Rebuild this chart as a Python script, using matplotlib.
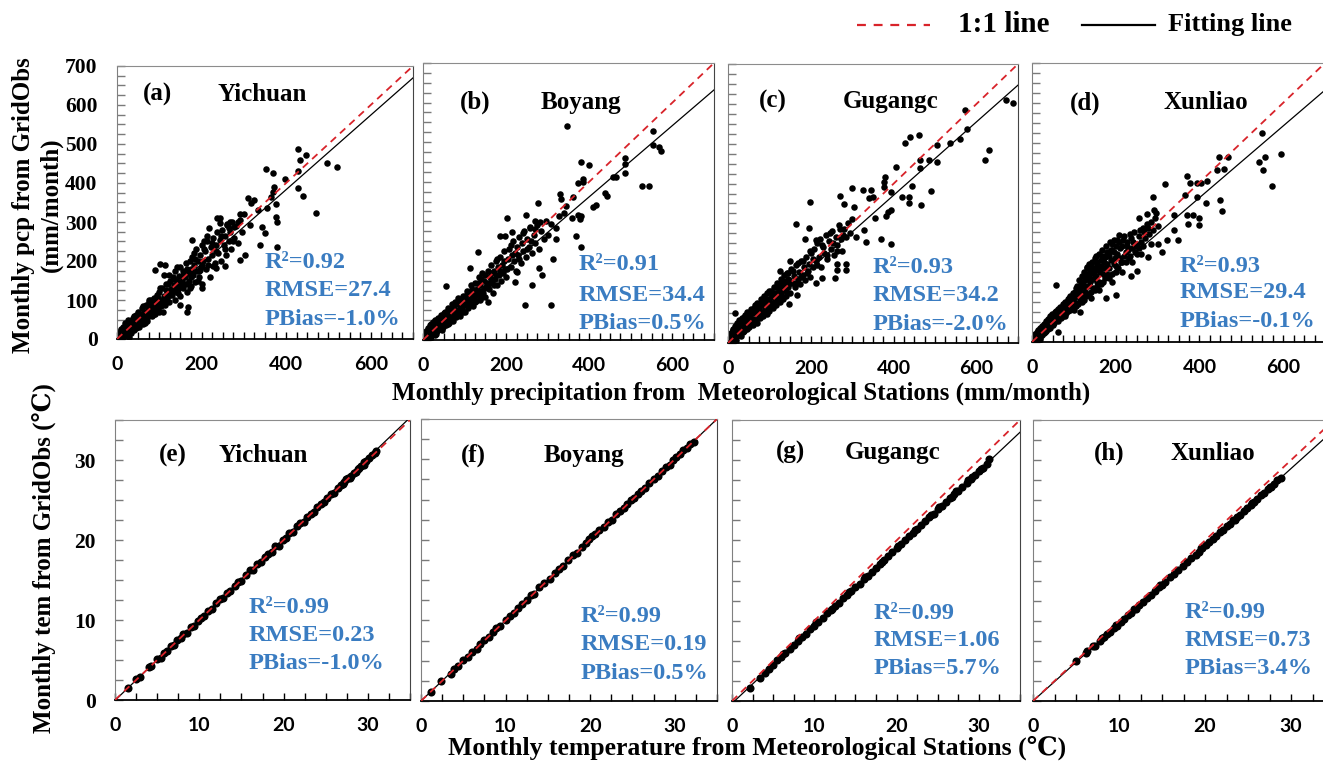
import numpy as np
import matplotlib
matplotlib.use('Agg')
from matplotlib import pyplot as plt
from matplotlib.lines import Line2D
from matplotlib.ticker import MultipleLocator

plt.rcParams['font.family'] = ['Liberation Serif', 'DejaVu Serif']
plt.rcParams['font.weight'] = 'bold'

stations = ['Yichuan', 'Boyang', 'Gugangc', 'Xunliao']
pcp_tags = ['(a)', '(b)', '(c)', '(d)']
tem_tags = ['(e)', '(f)', '(g)', '(h)']

# statistics printed in each panel
pcp_r2 = ['0.92', '0.91', '0.93', '0.93']
pcp_rmse = ['27.4', '34.4', '34.2', '29.4']
pcp_pbias = ['-1.0', '0.5', '-2.0', '-0.1']
tem_r2 = ['0.99', '0.99', '0.99', '0.99']
tem_rmse = ['0.23', '0.19', '1.06', '0.73']
tem_pbias = ['-1.0', '0.5', '5.7', '3.4']

# fitting lines (slope, intercept)
pcp_fit = [(0.955, 1.0), (0.90, 2.0), (0.92, 3.0), (0.90, 2.0)]
tem_fit = [(1.01, -0.05), (1.0, 0.0), (0.965, -0.3), (0.965, 0.0)]

# monthly precipitation: (station, gridobs) mm/month
pcp_yichuan = [
    (2, 3), (4, 10), (5, 0), (6, 18), (8, 5), (10, 25), (10, 12), (12, 2), (14, 30), (15, 16),
    (17, 8), (18, 40), (20, 22), (22, 12), (24, 33), (25, 48), (27, 20), (28, 5), (30, 38), (31, 26),
    (33, 15), (35, 50), (36, 30), (38, 42), (40, 22), (41, 60), (43, 35), (45, 48), (46, 28), (48, 55),
    (50, 40), (50, 70), (52, 32), (54, 62), (56, 45), (58, 80), (60, 52), (61, 38), (63, 70), (65, 58),
    (67, 48), (68, 88), (70, 65), (72, 55), (74, 78), (75, 95), (77, 62), (79, 72), (80, 100), (82, 58),
    (84, 85), (86, 70), (88, 105), (90, 80), (91, 65), (93, 95), (95, 112), (96, 78), (98, 90), (100, 120),
    (100, 70), (103, 100), (105, 85), (107, 130), (108, 95), (110, 110), (112, 165), (114, 88), (116, 125), (118, 105),
    (120, 140), (122, 118), (124, 95), (126, 150), (128, 128), (130, 112), (132, 160), (134, 138), (136, 100), (138, 175),
    (140, 130), (142, 150), (144, 118), (146, 162), (148, 140), (150, 110), (150, 185), (153, 150), (155, 130), (157, 175),
    (160, 160), (162, 140), (164, 195), (166, 120), (168, 170), (170, 150), (172, 200), (174, 180), (176, 135), (178, 210),
    (180, 165), (182, 190), (185, 145), (187, 230), (189, 175), (191, 200), (194, 160), (196, 215), (198, 185), (200, 240),
    (200, 140), (204, 200), (207, 225), (210, 180), (213, 250), (216, 205), (219, 160), (222, 235), (225, 215), (228, 260),
    (231, 195), (234, 240), (237, 275), (240, 220), (243, 255), (246, 200), (249, 280), (252, 240), (255, 265), (258, 215),
    (261, 295), (264, 250), (267, 275), (270, 230), (273, 300), (277, 260), (281, 290), (285, 245), (290, 305), (295, 275),
    (300, 320), (177, 254), (205, 250), (217, 284), (236, 310), (244, 297), (260, 292), (177, 168), (197, 177), (228, 186),
    (15, 5), (22, 30), (35, 25), (45, 62), (55, 50), (62, 85), (70, 45), (78, 88), (85, 95), (92, 75),
    (102, 130), (108, 70), (115, 140), (125, 112), (135, 155), (145, 128), (155, 165), (165, 180), (175, 158), (185, 205),
    (195, 175), (205, 230), (215, 190), (225, 245), (235, 225), (245, 265), (255, 230), (265, 285), (275, 250), (285, 300),
    (12, 20), (26, 12), (38, 55), (48, 30), (58, 65), (66, 40), (76, 100), (88, 65), (98, 105), (112, 95),
    (122, 165), (132, 120), (142, 185), (152, 140), (162, 175), (172, 130), (182, 220), (192, 150), (202, 190), (212, 265),
    (428, 487), (448, 472), (433, 459), (428, 431), (398, 411), (496, 450), (520, 442), (441, 367), (428, 386), (471, 322),
    (353, 436), (369, 425), (372, 391), (377, 346), (375, 314), (378, 301), (378, 237), (337, 241), (351, 273), (344, 286),
    (369, 378), (364, 365), (354, 335), (333, 331), (317, 348), (310, 361), (323, 357), (314, 292), (292, 321), (303, 215),
    (290, 203), (244, 310), (268, 301), (276, 288), (235, 181), (256, 186), (169, 83), (165, 70), (150, 87), (201, 130),
    (114, 190), (91, 177), (102, 192),
]
pcp_boyang = [
    (1, 2), (3, 8), (4, 0), (5, 15), (7, 4), (8, 22), (10, 10), (11, 30), (13, 18), (14, 6),
    (16, 26), (18, 38), (19, 14), (21, 28), (23, 45), (24, 20), (26, 35), (28, 12), (29, 50), (31, 30),
    (33, 42), (34, 22), (36, 55), (38, 36), (40, 48), (41, 28), (43, 62), (45, 40), (47, 52), (49, 32),
    (50, 68), (52, 45), (54, 58), (56, 38), (58, 72), (60, 50), (62, 64), (63, 42), (65, 78), (67, 56),
    (69, 90), (70, 62), (72, 48), (74, 80), (76, 66), (78, 95), (80, 58), (82, 74), (84, 105), (86, 68),
    (88, 85), (90, 60), (92, 98), (94, 78), (96, 112), (98, 88), (100, 72), (102, 105), (104, 92), (106, 125),
    (108, 82), (110, 100), (112, 118), (114, 94), (116, 138), (118, 108), (120, 86), (122, 125), (124, 112), (126, 145),
    (128, 98), (130, 130), (132, 115), (134, 160), (136, 104), (138, 140), (140, 125), (142, 170), (144, 118), (146, 150),
    (148, 132), (150, 108), (153, 145), (156, 175), (158, 130), (160, 160), (163, 190), (165, 145), (168, 120), (170, 175),
    (172, 155), (175, 200), (177, 140), (180, 185), (182, 165), (185, 210), (187, 150), (190, 190), (192, 170), (195, 225),
    (198, 180), (200, 158), (205, 205), (208, 230), (211, 185), (214, 215), (217, 250), (220, 200), (223, 175), (226, 235),
    (229, 215), (232, 260), (235, 195), (238, 245), (241, 225), (244, 275), (247, 210), (250, 255), (254, 235), (258, 285),
    (262, 220), (266, 265), (270, 245), (275, 290), (280, 230), (285, 275), (290, 255), (295, 300), (300, 265),
    (6, 10), (12, 25), (20, 40), (27, 18), (35, 30), (42, 55), (48, 60), (55, 45), (61, 80), (68, 52),
    (75, 72), (83, 62), (90, 100), (97, 70), (105, 115), (111, 90), (118, 130), (125, 95), (133, 145), (141, 110),
    (149, 165), (157, 140), (164, 170), (171, 140), (179, 205), (186, 175), (194, 200), (203, 180), (212, 240), (221, 220),
    (231, 205), (240, 270), (250, 230), (260, 250), (270, 280), (9, 18), (17, 5), (25, 42), (32, 15), (39, 48),
    (46, 26), (53, 72), (59, 40), (66, 70), (73, 58), (80, 90), (87, 75), (95, 85), (103, 90), (115, 105),
    (127, 120), (139, 155), (151, 135), (163, 155), (176, 165),
    (347, 541), (554, 527), (554, 493), (568, 487), (572, 477), (487, 460), (487, 446), (485, 422), (456, 413), (464, 411),
    (528, 390), (544, 390), (439, 372), (442, 364), (380, 451), (399, 441), (372, 397), (384, 407), (384, 399), (410, 337),
    (415, 340), (329, 370), (332, 357), (360, 361), (344, 339), (381, 314), (372, 316), (377, 307), (359, 309), (367, 263),
    (380, 234), (313, 205), (279, 181), (287, 163), (263, 140), (245, 88), (309, 88), (277, 347), (247, 315), (201, 308),
    (185, 262), (197, 262), (213, 273), (321, 284), (319, 255), (309, 293), (269, 301), (281, 297), (257, 284), (328, 314),
    (339, 322), (225, 171), (221, 146), (157, 96), (138, 100), (132, 222), (112, 181), (56, 136),
]
pcp_gugangc = [
    (1, 3), (2, 10), (3, 0), (5, 18), (6, 6), (8, 25), (9, 12), (11, 35), (12, 20), (14, 4),
    (15, 28), (17, 42), (18, 15), (20, 32), (22, 50), (23, 22), (25, 38), (27, 58), (28, 28), (30, 45),
    (32, 18), (33, 62), (35, 40), (37, 52), (38, 30), (40, 70), (42, 46), (44, 58), (45, 35), (47, 78),
    (49, 55), (50, 40), (52, 68), (54, 48), (56, 85), (58, 60), (60, 44), (62, 75), (64, 95), (65, 58),
    (67, 80), (69, 50), (71, 100), (73, 70), (75, 88), (77, 62), (79, 110), (81, 78), (83, 95), (85, 68),
    (87, 118), (89, 85), (91, 102), (93, 72), (95, 125), (97, 92), (99, 110), (100, 80), (103, 130), (105, 100),
    (107, 118), (109, 88), (111, 140), (113, 108), (115, 125), (117, 95), (119, 150), (121, 115), (123, 132), (125, 102),
    (127, 160), (129, 125), (131, 140), (133, 110), (135, 170), (137, 135), (139, 150), (141, 118), (143, 175), (145, 140),
    (147, 158), (150, 125), (153, 185), (156, 150), (159, 168), (162, 140), (165, 195), (168, 160), (171, 178), (174, 148),
    (177, 205), (180, 170), (183, 190), (186, 158), (189, 215), (192, 180), (195, 198), (198, 165), (200, 225), (204, 190),
    (208, 235), (212, 205), (216, 250), (220, 215), (224, 190), (228, 245), (232, 225), (236, 270), (240, 210), (244, 255),
    (248, 235), (252, 280), (256, 220), (260, 265), (264, 245), (268, 295), (272, 260), (276, 230), (280, 285), (285, 265),
    (290, 300), (295, 275), (300, 310),
    (4, 12), (10, 28), (16, 10), (21, 45), (26, 20), (31, 55), (36, 28), (41, 60), (46, 40), (51, 75),
    (57, 50), (63, 88), (68, 60), (74, 95), (80, 70), (86, 105), (92, 80), (98, 130), (104, 90), (110, 125),
    (116, 110), (122, 145), (128, 115), (134, 155), (140, 130), (146, 175), (152, 150), (158, 180), (164, 150), (170, 200),
    (176, 165), (182, 205), (190, 175), (198, 230), (206, 210), (214, 195), (222, 260), (230, 240), (238, 220), (246, 275),
    (254, 250), (262, 230), (270, 285), (278, 270), (7, 20), (13, 32), (19, 8), (29, 40), (39, 65), (48, 52),
    (59, 80), (70, 75), (82, 100), (94, 110), (106, 118), (118, 140), (131, 150), (144, 160),
    (670, 610), (688, 603), (572, 585), (576, 536), (561, 513), (536, 501), (505, 497), (505, 453), (484, 459), (463, 438),
    (464, 458), (620, 459), (629, 483), (428, 501), (440, 518), (461, 522), (406, 442), (378, 417), (377, 405), (377, 392),
    (393, 378), (421, 367), (437, 367), (437, 350), (444, 394), (467, 346), (491, 382), (394, 334), (386, 329), (382, 318),
    (355, 313), (370, 262), (393, 248), (334, 253), (328, 283), (310, 266), (346, 385), (341, 363), (326, 384), (349, 367),
    (299, 390), (270, 369), (279, 348), (303, 340), (197, 353), (165, 298), (196, 289), (187, 260), (213, 258), (284, 184),
    (262, 183), (258, 162), (228, 163), (284, 199), (262, 199), (213, 151), (167, 120), (147, 99), (125, 181), (149, 206),
    (16, 75),
]
pcp_xunliao = [
    (1, 2), (2, 8), (4, 0), (5, 14), (6, 5), (8, 20), (10, 10), (11, 26), (13, 16), (14, 4),
    (16, 24), (18, 34), (19, 12), (21, 28), (23, 40), (24, 18), (26, 32), (28, 46), (29, 22), (31, 38),
    (33, 52), (34, 28), (36, 44), (38, 58), (39, 32), (41, 50), (43, 64), (44, 36), (46, 55), (48, 70),
    (49, 42), (51, 60), (53, 48), (55, 75), (57, 55), (59, 66), (61, 82), (63, 52), (65, 72), (67, 88),
    (69, 60), (71, 78), (73, 95), (75, 65), (77, 84), (79, 100), (81, 72), (83, 90), (85, 108), (87, 78),
    (89, 96), (91, 115), (93, 85), (95, 104), (97, 122), (99, 90), (100, 110), (103, 125), (105, 98), (107, 140),
    (109, 115), (111, 130), (113, 155), (115, 108), (117, 140), (119, 165), (121, 120), (123, 150), (125, 175), (127, 128),
    (129, 160), (131, 185), (133, 140), (135, 170), (137, 195), (139, 150), (141, 178), (143, 200), (145, 158), (147, 185),
    (150, 210), (153, 165), (156, 195), (159, 220), (162, 175), (165, 205), (168, 230), (171, 185), (174, 215), (177, 240),
    (180, 195), (183, 225), (186, 250), (189, 205), (192, 232), (195, 255), (198, 210), (200, 240), (204, 220), (208, 250),
    (212, 200), (216, 240), (220, 265), (224, 225), (228, 250), (232, 210), (236, 260), (240, 235), (244, 275), (248, 245),
    (252, 220), (256, 265), (260, 250), (265, 285), (270, 260), (275, 295), (280, 270), (285, 300), (290, 280), (295, 310),
    (300, 290),
    (3, 10), (9, 18), (15, 30), (20, 8), (27, 40), (32, 25), (37, 50), (42, 40), (47, 62), (52, 55),
    (58, 78), (64, 65), (70, 85), (76, 95), (82, 80), (88, 110), (94, 100), (101, 120), (106, 135), (112, 120),
    (118, 150), (124, 140), (130, 170), (136, 160), (142, 190), (148, 170), (155, 200), (161, 185), (167, 215), (173, 200),
    (179, 225), (185, 215), (191, 245), (197, 225), (203, 255), (210, 235), (218, 255), (226, 240), (234, 270), (242, 250),
    (250, 240), (258, 280), (268, 275), (278, 285), (6, 12), (12, 22), (17, 5), (25, 28), (35, 38), (45, 48),
    (56, 62), (66, 80), (78, 75), (90, 88), (102, 95), (114, 130), (126, 155), (138, 175), (152, 180), (164, 190),
    (176, 215), (188, 230), (140, 110), (160, 150), (180, 170), (200, 190), (120, 100), (100, 80),
    (110, 95), (125, 105), (135, 120), (150, 130), (165, 145), (175, 160), (190, 170), (205, 185), (215, 200), (225, 200),
    (235, 215), (245, 225), (255, 235), (265, 240), (130, 115), (145, 135), (155, 150), (170, 170), (185, 185), (195, 195),
    (210, 210), (220, 215), (230, 230), (245, 240), (200, 175), (185, 160), (170, 150), (155, 140), (140, 125), (120, 110),
    (105, 90), (90, 80), (80, 65), (160, 130), (190, 150), (215, 175), (240, 200), (260, 220), (285, 245), (115, 75),
    (549, 524), (556, 465), (542, 451), (553, 432), (595, 472), (574, 391), (446, 465), (469, 465), (442, 432), (458, 433),
    (448, 356), (455, 329), (416, 349), (418, 405), (404, 400), (317, 396), (370, 416), (377, 398), (394, 400), (365, 370),
    (394, 363), (370, 318), (384, 318), (372, 297), (400, 310), (400, 293), (339, 318), (289, 363), (291, 331), (297, 323),
    (274, 320), (255, 310), (323, 257), (349, 257), (339, 281), (301, 246), (311, 226), (278, 214), (251, 178), (236, 165),
    (200, 117), (176, 111), (152, 217), (175, 214), (208, 268), (132, 189), (57, 142), (63, 25),
]

# monthly temperature: (station, gridobs) degC
tem_yichuan = [
    (1.5, 1.5), (2.5, 2.6), (3.0, 2.9), (4.0, 4.1), (4.3, 4.2), (5.0, 5.1), (5.4, 5.3), (5.8, 5.9), (6.2, 6.1), (6.6, 6.7),
    (7.0, 6.9), (7.4, 7.5), (7.8, 7.7), (8.1, 8.2), (8.5, 8.4), (9.0, 9.1), (9.4, 9.3), (9.8, 9.9), (10.2, 10.3), (10.6, 10.5),
    (11.0, 11.1), (11.5, 11.4), (12.0, 12.1), (12.4, 12.6), (12.8, 12.7), (13.3, 13.4), (13.7, 13.6), (14.2, 14.3), (14.6, 14.7), (15.0, 14.9),
    (15.5, 15.6), (16.0, 16.2), (16.4, 16.3), (16.9, 17.0), (17.3, 17.2), (17.8, 17.9), (18.2, 18.3), (18.6, 18.5), (19.0, 19.2), (19.4, 19.3),
    (19.9, 20.0), (20.3, 20.2), (20.7, 20.9), (21.1, 21.0), (21.6, 21.7), (22.0, 22.1), (22.4, 22.3), (22.8, 22.9), (23.2, 23.3), (23.6, 23.5),
    (24.0, 24.1), (24.4, 24.5), (24.8, 24.7), (25.2, 25.3), (25.6, 25.7), (26.0, 25.9), (26.4, 26.5), (26.8, 26.9), (27.1, 27.0), (27.4, 27.6),
    (27.7, 27.8), (28.0, 28.0), (28.3, 28.4), (28.6, 28.5), (28.9, 29.0), (29.2, 29.3), (29.5, 29.4), (29.8, 29.9), (30.1, 30.2), (30.5, 30.6),
    (30.9, 30.9), (31.0, 31.1), (27.2, 27.3), (27.9, 27.7), (28.8, 28.9), (29.6, 29.7),
]
tem_boyang = [
    (1.2, 1.1), (2.4, 2.5), (3.5, 3.4), (3.9, 4.0), (4.4, 4.3), (5.0, 5.1), (5.5, 5.5), (6.0, 6.1), (6.6, 6.5), (7.0, 7.1),
    (7.5, 7.6), (8.0, 7.9), (8.5, 8.6), (8.9, 9.0), (9.4, 9.3), (10.0, 10.1), (10.5, 10.6), (11.0, 10.9), (11.5, 11.6), (12.0, 12.1),
    (12.5, 12.5), (13.0, 13.1), (13.4, 13.3), (14.0, 14.1), (14.6, 14.7), (15.2, 15.2), (15.8, 15.9), (16.3, 16.4), (16.8, 16.8), (17.4, 17.5),
    (18.0, 18.1), (18.5, 18.4), (19.0, 19.1), (19.5, 19.6), (19.9, 20.1), (20.2, 20.5), (20.6, 20.7), (21.1, 21.2), (21.6, 21.6), (22.1, 22.2),
    (22.6, 22.5), (23.1, 23.2), (23.5, 23.6), (24.0, 24.0), (24.4, 24.5), (24.8, 24.9), (25.2, 25.2), (25.6, 25.7), (26.0, 26.1), (26.5, 26.4),
    (27.0, 27.1), (27.5, 27.6), (28.0, 27.9), (28.5, 28.6), (29.0, 29.1), (29.4, 29.3), (29.8, 29.9), (30.2, 30.3), (30.6, 30.6), (31.0, 31.1),
    (31.4, 31.4), (31.8, 31.9), (32.3, 32.2),
]
tem_gugangc = [
    (2.2, 1.6), (3.4, 2.9), (4.0, 3.5), (4.5, 4.0), (5.0, 4.5), (5.5, 5.1), (6.0, 5.5), (6.5, 6.0), (7.0, 6.5), (7.5, 7.0),
    (8.0, 7.5), (8.5, 8.0), (9.0, 8.4), (9.5, 9.0), (10.0, 9.4), (10.5, 9.9), (11.0, 10.3), (11.5, 10.9), (12.0, 11.3), (12.5, 11.8),
    (13.0, 12.2), (13.5, 12.8), (14.0, 13.2), (14.5, 13.7), (15.0, 14.2), (15.5, 14.6), (16.0, 15.2), (16.5, 15.6), (17.0, 16.1), (17.5, 16.6),
    (18.0, 17.1), (18.5, 17.6), (19.0, 18.0), (19.5, 18.6), (20.0, 19.0), (20.5, 19.6), (21.0, 20.0), (21.5, 20.5), (22.0, 20.9), (22.5, 21.4),
    (23.0, 21.9), (23.5, 22.4), (24.0, 22.9), (24.5, 23.3), (25.0, 23.9), (25.5, 24.3), (26.0, 24.8), (26.5, 25.3), (27.0, 25.8), (27.5, 26.2),
    (28.0, 26.7), (28.5, 27.2), (29.0, 27.6), (29.5, 28.1), (30.0, 28.6), (30.5, 29.0), (31.0, 29.5), (31.2, 30.1), (8.2, 7.9), (12.2, 11.4),
    (16.2, 15.5), (20.2, 19.3), (24.2, 23.2), (27.2, 26.1), (29.2, 27.9), (30.2, 28.9), (6.2, 5.9), (10.2, 9.8), (14.2, 13.6), (18.2, 17.3),
    (22.2, 21.3), (25.2, 24.2), (26.7, 25.4), (28.7, 27.5),
]
tem_xunliao = [
    (5.0, 5.0), (6.2, 6.0), (6.3, 6.2), (7.0, 6.8), (7.2, 6.9), (7.8, 7.5), (8.3, 8.0), (8.6, 8.4), (9.0, 8.6), (9.4, 9.1),
    (9.8, 9.4), (10.2, 9.9), (10.6, 10.2), (11.0, 10.7), (11.4, 10.9), (11.8, 11.4), (12.3, 11.9), (12.8, 12.3), (13.2, 12.8), (13.7, 13.2),
    (14.2, 13.7), (14.6, 14.2), (15.0, 14.5), (15.4, 14.8), (15.9, 15.4), (16.4, 15.8), (16.9, 16.3), (17.4, 16.8), (17.9, 17.3), (18.4, 17.8),
    (18.9, 18.2), (19.3, 18.6), (19.7, 19.1), (20.1, 19.4), (20.5, 19.8), (20.9, 20.2), (21.3, 20.5), (21.7, 21.0), (22.1, 21.3), (22.5, 21.8),
    (22.9, 22.0), (23.3, 22.5), (23.7, 22.9), (24.1, 23.2), (24.5, 23.7), (24.9, 24.0), (25.3, 24.4), (25.7, 24.8), (26.1, 25.2), (26.5, 25.6),
    (26.9, 25.9), (27.3, 26.4), (27.7, 26.7), (28.0, 27.0), (28.4, 27.5), (28.8, 27.8), (8.0, 7.9), (9.6, 9.5), (12.0, 11.5), (14.8, 14.5),
    (19.5, 19.0), (23.5, 22.6), (25.5, 24.7), (27.5, 26.7),
]

pcp_points = [pcp_yichuan, pcp_boyang, pcp_gugangc, pcp_xunliao]
tem_points = [tem_yichuan, tem_boyang, tem_gugangc, tem_xunliao]

W, H = 1323, 765
fig = plt.figure(figsize=(W / 100, H / 100), dpi=100)


def rect(l, t, r, b):
    return [l / W, 1 - b / H, (r - l) / W, (b - t) / H]


pcp_boxes = [(117, 66, 413, 339), (423, 63, 714, 340), (728, 64, 1018, 343), (1032, 63, 1325, 342)]
tem_boxes = [(115, 420, 410, 700), (421, 419, 717, 701), (732, 420, 1020, 701), (1033, 420, 1334, 701)]

# text anchors in axes fraction: tag, station, stats (x, three y rows)
pcp_tag_xy = [(0.088, 0.894), (0.127, 0.859), (0.107, 0.864), (0.130, 0.857)]
pcp_name_x = [0.338, 0.405, 0.397, 0.450]
pcp_stat_x = [0.497, 0.533, 0.500, 0.502]
pcp_stat_y = [(0.282, 0.179, 0.073), (0.271, 0.162, 0.061), (0.272, 0.172, 0.068), (0.269, 0.176, 0.072)]
tem_tag_xy = [(0.149, 0.875), (0.136, 0.872), (0.153, 0.883), (0.203, 0.880)]
tem_name_x = [0.350, 0.413, 0.392, 0.458]
tem_stat_x = [0.454, 0.539, 0.490, 0.502]
tem_stat_y = [(0.329, 0.229, 0.129), (0.301, 0.199, 0.096), (0.313, 0.214, 0.117), (0.316, 0.217, 0.117)]

stat_color = '#3A7CC1'
red = '#D8232A'


def draw_panel(ax, pts, lim, fit, xmajor, minor, show_y, ylabels, msize,
               tag, name, tag_xy, name_x, stat_x, stat_y, stats):
    pts = np.array(pts, dtype=float)
    ax.scatter(pts[:, 0], pts[:, 1], s=msize, c='black', linewidths=0, zorder=2)
    xs = np.array([0, lim])
    ax.plot(xs, fit[0] * xs + fit[1], color='black', lw=0.9, zorder=3)
    ax.plot(xs, xs, color=red, lw=1.3, dashes=(4, 3), zorder=4)
    ax.set_xlim(0, lim)
    ax.set_ylim(0, lim)

    ax.set_xticks(np.arange(0, lim, xmajor))
    ax.set_xticklabels([str(int(v)) for v in np.arange(0, lim, xmajor)],
                       fontfamily='Lato', fontweight='bold', fontsize=14)
    ax.xaxis.set_minor_locator(MultipleLocator(minor))
    ax.yaxis.set_major_locator(MultipleLocator(ylabels))
    ax.yaxis.set_minor_locator(MultipleLocator(minor))
    ax.tick_params(axis='x', which='both', direction='in', length=5, width=1, color='black', pad=12)
    ax.tick_params(axis='y', which='both', direction='in', length=6, width=1, color='#7a7a7a',
                   labelsize=15.5, pad=14, labelleft=show_y)
    for lbl in ax.get_yticklabels():
        lbl.set_fontweight('bold')

    ax.spines['bottom'].set_color('black')
    ax.spines['bottom'].set_linewidth(1.3)
    ax.spines['left'].set_color('#808080')
    ax.spines['top'].set_color('#8c8c8c')
    ax.spines['right'].set_color('#444444')

    ax.text(tag_xy[0], tag_xy[1], tag, transform=ax.transAxes, fontsize=18,
            ha='left', va='center')
    ax.text(name_x, tag_xy[1], name, transform=ax.transAxes, fontsize=18,
            ha='left', va='center')
    lines = ['R\u00b2=' + stats[0], 'RMSE=' + stats[1], 'PBias=' + stats[2] + '%']
    for line, yy in zip(lines, stat_y):
        ax.text(stat_x, yy, line, transform=ax.transAxes, fontsize=17.5,
                color=stat_color, ha='left', va='center')


for i in range(4):
    ax = fig.add_axes(rect(*pcp_boxes[i]))
    draw_panel(ax, pcp_points[i], 700, pcp_fit[i], 200, 25, i == 0, 100, 22,
               pcp_tags[i], stations[i], pcp_tag_xy[i], pcp_name_x[i],
               pcp_stat_x[i], pcp_stat_y[i], (pcp_r2[i], pcp_rmse[i], pcp_pbias[i]))

for i in range(4):
    ax = fig.add_axes(rect(*tem_boxes[i]))
    draw_panel(ax, tem_points[i], 35, tem_fit[i], 10, 2.5, i == 0, 10, 34,
               tem_tags[i], stations[i], tem_tag_xy[i], tem_name_x[i],
               tem_stat_x[i], tem_stat_y[i], (tem_r2[i], tem_rmse[i], tem_pbias[i]))

# axis titles
fig.text(24 / W, 1 - 205 / H, 'Monthly pcp from GridObs', rotation=90,
         ha='center', va='center', fontsize=18)
fig.text(51 / W, 1 - 205 / H, '(mm/month)', rotation=90,
         ha='center', va='center', fontsize=18)
fig.text(741 / W, 1 - 393 / H, 'Monthly precipitation from  Meteorological Stations (mm/month)',
         ha='center', va='center', fontsize=18)
fig.text(45 / W, 1 - 558 / H, 'Monthly tem from GridObs (\u2103)', rotation=90,
         ha='center', va='center', fontsize=18)
fig.text(757 / W, 1 - 748 / H, 'Monthly temperature from Meteorological Stations (\u2103)',
         ha='center', va='center', fontsize=18.5)

# legend across the top
ly = 1 - 25 / H
fig.add_artist(Line2D([857 / W, 930 / W], [ly, ly], color=red, lw=1.6, dashes=(4, 3.5)))
fig.text(958 / W, ly, '1:1 line', ha='left', va='center', fontsize=21)
fig.add_artist(Line2D([1082 / W, 1155 / W], [ly, ly], color='black', lw=1.6))
fig.text(1168 / W, ly, 'Fitting line', ha='left', va='center', fontsize=19)

fig.savefig('out.png', dpi=100)
